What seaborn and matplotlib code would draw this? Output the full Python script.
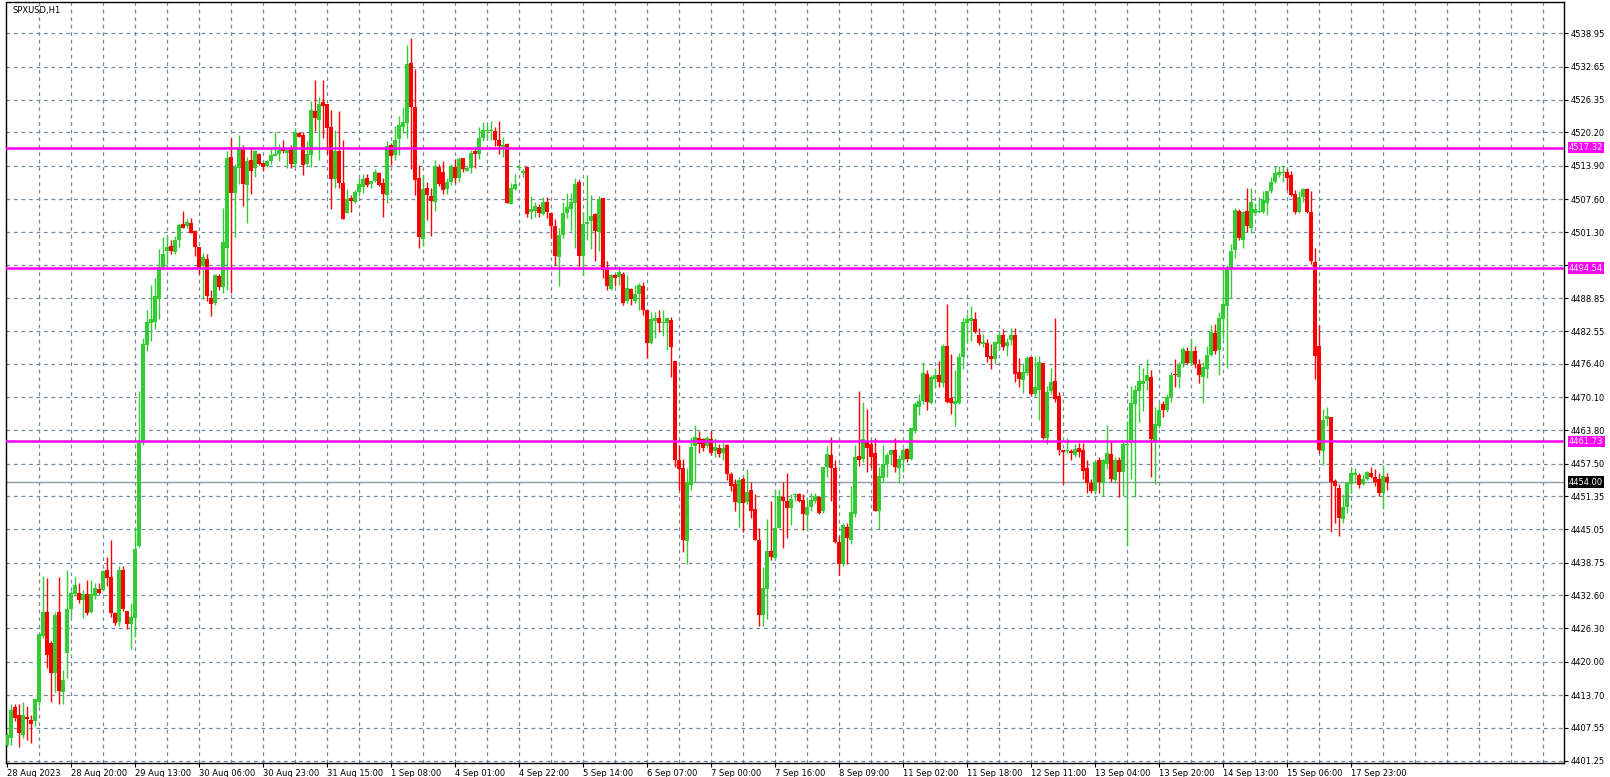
import numpy as np
import pandas as pd
import matplotlib
matplotlib.use("Agg")
import matplotlib.pyplot as plt
import seaborn as sns

O = [4404.2,4405.6,4411.4,4409.9,4406.1,4409.5,4409.0,4408.8,4412.4,4424.8,
4429.4,4423.6,4417.8,4429.4,4414.3,4421.6,4430.0,4432.8,4433.1,4431.7,
4432.8,4429.4,4432.4,4433.7,4433.5,4437.4,4436.1,4429.2,4427.6,4437.4,
4429.7,4427.1,4428.2,4441.9,4461.5,4480.0,4484.1,4484.4,4488.7,4494.7,
4497.8,4498.7,4497.6,4499.9,4502.9,4502.4,4503.1,4501.5,4498.5,4494.9,
4496.3,4488.9,4488.0,4493.0,4491.0,4498.4,4515.5,4508.8,4513.4,4517.3,
4510.3,4515.0,4513.4,4516.1,4514.5,4513.9,4514.8,4515.8,4516.1,4517.0,
4516.4,4517.0,4514.3,4520.1,4519.8,4514.3,4515.9,4524.2,4522.5,4525.9,
4525.5,4521.3,4511.4,4516.6,4510.6,4504.9,4507.7,4507.1,4508.9,4509.8,
4511.5,4510.4,4511.1,4512.5,4510.6,4508.4,4517.8,4515.9,4518.9,4521.3,
4521.9,4533.3,4525.1,4511.6,4500.1,4509.7,4508.2,4507.1,4513.7,4512.7,
4509.5,4510.9,4513.7,4511.5,4515.4,4513.0,4513.4,4516.7,4516.1,4519.1,
4520.5,4520.4,4520.5,4518.7,4517.0,4518.0,4506.6,4509.5,4513.5,4512.6,
4513.6,4505.1,4505.4,4506.1,4504.8,4507.1,4504.9,4502.4,4496.7,4500.8,
4504.9,4505.7,4506.8,4510.8,4496.9,4502.9,4503.4,4504.7,4501.3,4507.7,
4494.4,4490.6,4493.2,4492.8,4493.5,4488.3,4490.5,4488.3,4489.7,4491.2,
4486.6,4480.4,4484.6,4485.0,4484.1,4484.1,4484.7,4477.0,4458.1,4456.7,
4442.9,4453.5,4460.8,4462.4,4462.1,4460.8,4462.1,4459.9,4460.4,4459.6,
4461.0,4455.5,4453.7,4450.0,4454.6,4450.2,4452.5,4448.9,4443.1,4428.9,
4433.8,4441.0,4439.7,4445.4,4451.2,4450.5,4449.1,4451.6,4451.7,4450.7,
4447.7,4449.3,4450.5,4451.2,4448.6,4456.9,4459.2,4456.7,4442.7,4438.5,
4445.6,4443.1,4448.0,4458.9,4458.4,4461.7,4461.2,4459.6,4448.6,4454.8,
4457.5,4459.2,4460.1,4456.6,4458.2,4460.3,4458.4,4463.7,4468.3,4469.4,
4474.5,4469.0,4473.6,4474.3,4472.7,4479.8,4469.9,4468.8,4469.0,4477.6,
4484.1,4484.6,4484.8,4481.9,4480.2,4480.4,4477.9,4477.3,4480.2,4481.8,
4479.7,4480.9,4481.9,4474.9,4473.4,4474.7,4477.7,4470.6,4471.5,4476.6,
4462.4,4471.2,4473.1,4470.3,4460.1,4459.9,4459.9,4459.2,4460.5,4460.1,
4456.6,4453.8,4452.3,4458.1,4453.9,4457.5,4459.3,4454.4,4458.2,4456.0,
4461.0,4461.5,4468.8,4471.2,4472.6,4473.1,4474.0,4461.7,4464.6,4468.8,
4467.6,4470.1,4474.4,4474.0,4476.4,4478.9,4476.6,4478.9,4476.4,4474.0,
4475.5,4478.1,4482.2,4479.1,4484.8,4487.4,4494.4,4497.9,4505.4,4499.9,
4505.4,4502.2,4505.0,4505.1,4505.1,4506.9,4509.1,4510.9,4512.1,4512.6,
4512.7,4512.1,4508.6,4505.1,4507.9,4509.5,4505.1,4495.6,4479.8,4459.9,
4465.9,4466.3,4454.3,4452.9,4447.1,4449.3,4453.7,4455.3,4455.3,4453.7,
4454.6,4455.7,4455.0,4454.6,4452.0,4455.0]
H = [4406.5,4412.0,4412.0,4412.0,4412.4,4411.6,4409.9,4412.9,4425.3,4436.3,
4435.8,4423.9,4429.4,4436.1,4418.4,4437.4,4433.3,4436.1,4434.9,4433.5,
4435.5,4435.5,4434.9,4434.9,4437.4,4439.9,4443.1,4429.4,4438.1,4438.1,
4429.7,4431.2,4445.4,4471.3,4481.3,4486.6,4491.4,4492.6,4498.1,4500.4,
4500.6,4499.9,4500.6,4503.1,4505.4,4503.8,4504.0,4501.7,4498.5,4497.4,
4497.2,4490.3,4493.5,4493.5,4505.9,4516.7,4519.1,4514.3,4519.8,4517.8,
4515.5,4517.0,4516.9,4516.4,4514.5,4515.0,4517.5,4520.3,4518.1,4518.7,
4516.9,4517.8,4521.0,4520.3,4520.2,4518.5,4526.2,4530.1,4526.9,4530.1,
4525.5,4524.5,4520.7,4524.2,4518.7,4509.5,4508.4,4509.3,4511.5,4512.3,
4512.3,4511.1,4513.2,4512.7,4511.5,4518.5,4518.2,4521.4,4523.3,4525.1,
4536.8,4538.1,4532.2,4514.1,4512.1,4510.9,4509.7,4515.0,4514.3,4514.8,
4511.5,4514.3,4515.2,4515.5,4515.4,4513.8,4516.9,4517.3,4521.3,4522.1,
4521.6,4522.3,4521.3,4522.3,4519.4,4518.2,4510.6,4512.3,4514.3,4513.2,
4513.6,4508.2,4507.0,4506.6,4507.9,4507.9,4504.9,4503.8,4502.2,4507.0,
4508.8,4508.8,4511.5,4511.4,4505.1,4512.1,4508.4,4504.9,4508.1,4507.7,
4495.8,4493.5,4493.5,4495.0,4493.8,4493.2,4490.8,4491.4,4491.7,4491.8,
4486.8,4486.2,4486.2,4486.6,4486.6,4485.3,4485.3,4477.0,4461.0,4458.4,
4456.6,4462.6,4464.9,4463.6,4462.4,4462.8,4463.6,4462.4,4461.2,4461.4,
4461.2,4455.9,4454.6,4455.0,4455.0,4456.4,4454.1,4451.8,4445.4,4437.9,
4447.1,4450.5,4452.7,4452.7,4454.1,4455.7,4451.7,4452.0,4452.0,4451.7,
4450.9,4452.0,4452.0,4451.4,4456.9,4460.8,4462.6,4458.2,4443.8,4446.3,
4446.3,4453.2,4461.0,4471.3,4469.2,4467.9,4461.9,4462.4,4456.9,4461.0,
4459.6,4460.3,4462.4,4459.2,4460.5,4460.5,4464.2,4469.1,4470.6,4476.7,
4475.2,4474.3,4475.6,4477.0,4480.2,4487.7,4478.2,4475.2,4478.4,4485.0,
4485.9,4487.4,4486.2,4483.1,4482.0,4481.1,4480.2,4480.7,4482.5,4483.0,
4481.3,4483.1,4483.1,4477.5,4476.6,4477.9,4477.7,4477.9,4477.9,4476.6,
4472.2,4475.6,4485.1,4471.1,4460.1,4462.4,4460.3,4461.2,4461.4,4461.4,
4458.2,4454.6,4458.1,4458.7,4458.3,4464.8,4461.7,4458.7,4458.7,4461.7,
4465.6,4472.2,4472.4,4476.1,4475.6,4477.3,4475.2,4468.3,4469.0,4469.4,
4470.6,4474.9,4477.3,4476.7,4479.5,4479.5,4481.3,4479.8,4477.3,4476.7,
4479.8,4483.7,4483.9,4486.2,4494.4,4495.1,4499.0,4505.9,4505.7,4505.4,
4509.7,4509.7,4506.8,4507.9,4509.1,4509.1,4511.8,4513.9,4513.9,4514.1,
4513.2,4513.0,4509.3,4509.1,4509.7,4509.7,4509.1,4498.4,4483.7,4467.9,
4468.3,4466.3,4454.6,4453.7,4451.8,4454.1,4456.6,4456.6,4455.7,4455.5,
4456.2,4456.9,4456.4,4455.7,4457.3,4455.7]
L = [4403.8,4404.2,4408.8,4403.8,4405.6,4405.1,4404.7,4407.9,4411.6,4424.4,
4418.9,4412.3,4414.3,4412.0,4412.0,4417.0,4428.5,4432.4,4431.2,4428.2,
4428.8,4429.2,4431.9,4432.8,4433.3,4434.4,4428.5,4426.9,4426.7,4429.7,
4426.2,4422.5,4424.6,4441.8,4461.0,4478.9,4480.7,4483.0,4484.8,4494.4,
4495.3,4497.2,4497.2,4498.5,4502.2,4502.2,4501.1,4496.9,4493.5,4488.7,
4488.3,4485.5,4487.5,4490.3,4489.8,4490.3,4489.8,4500.4,4510.4,4506.3,
4503.1,4508.6,4511.8,4514.1,4513.0,4513.7,4514.3,4515.8,4514.8,4516.4,
4513.4,4513.4,4513.7,4519.4,4512.1,4514.1,4513.7,4520.5,4515.0,4519.1,
4516.1,4505.7,4509.7,4509.7,4503.9,4504.9,4505.1,4506.8,4508.1,4508.8,
4509.8,4509.7,4510.9,4510.0,4504.2,4506.8,4514.1,4515.0,4515.9,4520.1,
4519.1,4513.2,4508.4,4498.4,4498.7,4503.6,4500.6,4505.4,4510.0,4508.6,
4508.6,4510.3,4510.6,4510.9,4512.7,4513.0,4512.5,4513.4,4515.2,4518.5,
4519.1,4518.7,4517.6,4516.1,4515.5,4506.8,4506.6,4509.3,4513.2,4511.8,
4504.2,4503.8,4504.2,4504.2,4504.5,4504.0,4500.2,4495.1,4491.2,4500.2,
4504.0,4501.5,4498.4,4494.9,4493.2,4499.9,4498.1,4495.8,4497.8,4492.6,
4490.3,4490.3,4491.2,4491.4,4487.5,4488.0,4487.5,4488.0,4486.6,4485.7,
4477.5,4480.2,4481.3,4482.5,4481.6,4479.1,4474.0,4456.9,4452.6,4440.8,
4438.5,4452.6,4454.1,4459.6,4459.9,4460.5,4459.2,4458.7,4458.7,4458.2,
4454.4,4452.3,4448.6,4445.6,4444.5,4449.8,4447.2,4443.1,4426.7,4426.7,
4428.0,4439.2,4439.4,4445.4,4441.6,4443.4,4445.9,4450.5,4450.2,4445.0,
4444.7,4448.6,4450.0,4448.0,4448.2,4455.0,4450.5,4442.5,4436.4,4438.1,
4438.5,4442.2,4447.4,4457.1,4457.8,4456.0,4456.6,4448.6,4445.2,4454.1,
4455.0,4457.3,4456.0,4453.9,4456.0,4457.8,4458.2,4463.3,4466.7,4468.8,
4467.6,4468.8,4472.0,4472.0,4472.0,4469.0,4466.9,4464.7,4468.8,4475.5,
4480.4,4480.7,4482.2,4480.0,4479.5,4476.7,4475.5,4476.4,4479.1,4479.1,
4477.9,4480.0,4472.9,4472.0,4470.9,4474.3,4470.3,4470.3,4465.8,4462.1,
4461.2,4470.6,4469.2,4459.2,4453.7,4459.6,4458.1,4458.7,4458.7,4454.6,
4452.0,4452.0,4451.8,4452.0,4451.4,4456.4,4454.1,4453.9,4451.1,4451.4,
4441.9,4454.6,4451.1,4465.4,4467.4,4471.5,4455.0,4453.7,4464.2,4466.3,
4467.2,4469.2,4472.0,4471.8,4475.8,4476.4,4476.1,4475.6,4472.7,4469.0,
4473.8,4477.9,4478.2,4474.3,4481.1,4475.6,4488.9,4496.5,4499.9,4498.4,
4501.3,4501.1,4504.5,4505.0,4505.0,4504.5,4508.8,4510.6,4511.8,4510.9,
4509.3,4508.2,4504.8,4505.0,4507.0,4505.0,4495.3,4473.6,4459.6,4457.3,
4464.6,4444.5,4446.2,4443.8,4446.3,4448.2,4452.0,4453.9,4452.8,4453.4,
4454.4,4454.8,4453.2,4451.4,4448.9,4452.6]
C = [4406.1,4410.8,4409.3,4406.5,4409.9,4409.2,4408.3,4412.9,4425.3,4429.4,
4421.2,4417.8,4428.9,4414.5,4416.6,4430.0,4433.1,4434.6,4431.7,4432.8,
4429.2,4432.8,4434.0,4433.1,4437.2,4435.8,4429.2,4427.3,4437.4,4429.9,
4427.1,4428.5,4441.3,4461.5,4480.2,4484.4,4484.8,4489.2,4494.7,4497.2,
4498.5,4497.8,4499.9,4502.7,4502.2,4503.3,4501.1,4498.5,4494.4,4496.7,
4489.2,4487.7,4493.2,4491.0,4499.5,4515.3,4508.8,4513.7,4517.0,4510.4,
4514.8,4513.0,4516.6,4514.3,4513.7,4514.8,4515.9,4516.1,4516.8,4516.6,
4516.9,4514.3,4520.2,4519.4,4514.1,4516.1,4524.5,4523.0,4525.5,4525.3,
4521.0,4511.4,4516.7,4510.6,4503.9,4507.6,4507.3,4508.9,4510.4,4511.3,
4510.2,4511.1,4512.7,4510.3,4508.6,4517.6,4515.8,4518.7,4521.7,4522.2,
4533.2,4525.1,4511.2,4500.4,4509.5,4508.4,4507.2,4513.9,4510.4,4509.3,
4510.9,4513.9,4511.5,4515.2,4513.2,4513.5,4516.4,4516.1,4519.1,4520.7,
4520.7,4520.6,4518.7,4517.6,4517.8,4506.8,4509.7,4510.4,4513.7,4513.0,
4504.8,4505.7,4506.3,4504.9,4507.0,4505.1,4502.4,4496.9,4500.8,4504.9,
4506.0,4507.0,4510.4,4496.9,4502.9,4503.3,4504.3,4501.5,4507.6,4494.2,
4491.2,4493.2,4492.6,4493.8,4488.0,4490.8,4488.7,4489.7,4491.4,4486.6,
4480.4,4484.8,4485.1,4484.1,4484.4,4485.0,4479.5,4458.1,4456.4,4443.1,
4454.1,4460.6,4462.6,4461.2,4460.5,4462.4,4459.6,4460.6,4459.3,4460.5,
4455.5,4453.2,4450.2,4454.4,4450.0,4452.1,4448.6,4443.1,4428.9,4434.0,
4441.0,4439.9,4445.4,4451.4,4450.5,4449.1,4450.9,4451.8,4450.5,4448.0,
4449.3,4450.7,4451.4,4448.2,4456.9,4459.4,4456.6,4442.7,4438.5,4445.9,
4443.4,4448.3,4458.7,4458.2,4462.1,4460.5,4458.7,4448.6,4455.2,4457.5,
4459.2,4460.1,4456.9,4458.4,4460.1,4458.4,4464.2,4468.8,4469.4,4474.7,
4469.2,4474.0,4474.3,4472.9,4479.8,4469.2,4469.0,4469.4,4477.6,4484.3,
4484.8,4485.0,4482.5,4480.4,4480.6,4477.6,4477.3,4480.5,4481.9,4479.5,
4480.5,4481.9,4474.5,4473.6,4474.9,4477.5,4470.6,4472.0,4476.7,4462.4,
4471.1,4472.9,4469.7,4460.1,4459.8,4460.1,4459.6,4460.3,4459.8,4456.2,
4453.8,4452.3,4457.8,4454.1,4458.1,4459.6,4454.6,4458.2,4456.0,4461.2,
4461.2,4469.0,4471.5,4473.1,4473.2,4474.3,4462.1,4465.1,4467.6,4467.6,
4470.1,4474.3,4474.2,4476.4,4479.3,4476.6,4478.9,4476.4,4474.2,4475.8,
4478.1,4482.5,4478.9,4485.0,4487.7,4494.4,4497.8,4505.6,4500.2,4505.2,
4502.4,4507.0,4505.7,4505.3,4507.5,4509.1,4510.9,4512.5,4512.7,4512.7,
4511.5,4508.3,4505.1,4507.9,4509.5,4505.1,4495.8,4477.9,4460.1,4465.8,
4466.5,4454.1,4453.2,4447.3,4449.3,4453.9,4455.7,4455.7,4453.5,4454.6,
4455.9,4455.0,4454.1,4452.0,4455.2,4454.0]

x_labels = ["28 Aug 2023", "28 Aug 20:00", "29 Aug 13:00", "30 Aug 06:00", "30 Aug 23:00",
            "31 Aug 15:00", "1 Sep 08:00", "4 Sep 01:00", "4 Sep 22:00", "5 Sep 14:00",
            "6 Sep 07:00", "7 Sep 00:00", "7 Sep 16:00", "8 Sep 09:00", "11 Sep 02:00",
            "11 Sep 18:00", "12 Sep 11:00", "13 Sep 04:00", "13 Sep 20:00", "14 Sep 13:00",
            "15 Sep 06:00", "17 Sep 23:00"]
y_ticks = [4538.95, 4532.65, 4526.35, 4520.20, 4513.90, 4507.60, 4501.30, 4495.15, 4488.85,
           4482.55, 4476.40, 4470.10, 4463.80, 4457.50, 4451.35, 4445.05, 4438.75, 4432.60,
           4426.30, 4420.00, 4413.70, 4407.55, 4401.25]
levels = [4517.32, 4494.54, 4461.73]
last_price = 4454.00
title = "SPXUSD,H1"

df = pd.DataFrame({"open": O, "high": H, "low": L, "close": C})
df["idx"] = np.arange(len(df))
df["up"] = df["close"] >= df["open"]

sns.set_theme(style="white")
plt.rcParams["font.family"] = ["DejaVu Sans"]

W, Hpx = 1610, 777
FS = 6.0
fig = plt.figure(figsize=(W / 100, Hpx / 100), dpi=100)
ax = fig.add_axes([6 / W, 1 - 763 / Hpx, (1564 - 6) / W, (763 - 2) / Hpx])

green, red = "#32CD32", "#FF0000"
cols = np.where(df["up"], green, red)
ax.vlines(df["idx"], df["low"], df["high"], colors=cols, lw=1.0, zorder=3)
bottoms = np.minimum(df["open"], df["close"])
heights = np.maximum(np.abs(df["close"] - df["open"]), 0.2)
ax.bar(df["idx"], heights, bottom=bottoms, width=0.78, color=cols, linewidth=0, zorder=4)

ax.set_xlim(-0.25, 389.25)
ax.set_ylim(4400.83, 4544.9)

grid_kw = dict(color="#778899", lw=0.9, ls=(0, (3, 3)), zorder=1)
for yv in y_ticks:
    ax.axhline(yv, **grid_kw)
for xv in range(8, 390, 8):
    ax.axvline(xv, **grid_kw)

for lv in levels:
    ax.axhline(lv, color="#FF00FF", lw=1.8, zorder=5)
ax.axhline(last_price, color="#8899AA", lw=1.0, zorder=2)

ax.yaxis.tick_right()
ax.set_yticks(y_ticks)
ax.set_yticklabels([("" if abs(v - 4495.15) < 0.01 else f"{v:.2f}") for v in y_ticks])
ax.tick_params(axis="y", length=3, width=0.8, labelsize=FS, pad=1.5, colors="black", direction="out", right=True)
ax.set_xticks(np.arange(0, 16 * len(x_labels), 16))
ax.set_xticklabels(x_labels, ha="left")
ax.tick_params(axis="x", length=3, width=0.8, labelsize=FS, pad=1, colors="black", bottom=True)

for s in ax.spines.values():
    s.set_color("black")
    s.set_linewidth(1.0)

def tag(val, fc):
    ax.annotate(f"{val:.2f}", xy=(1.0, val), xycoords=("axes fraction", "data"),
                xytext=(3.5, 0), textcoords="offset points", va="center", ha="left",
                fontsize=FS, color="white",
                bbox=dict(boxstyle="square,pad=0.15", fc=fc, ec="none"))

for lv in levels:
    tag(lv, "#FF00FF")
tag(last_price, "black")

ax.text(0.004, 0.995, title, transform=ax.transAxes, va="top", ha="left", fontsize=FS, color="black")

fig.savefig("out.png", dpi=100, facecolor="white")
